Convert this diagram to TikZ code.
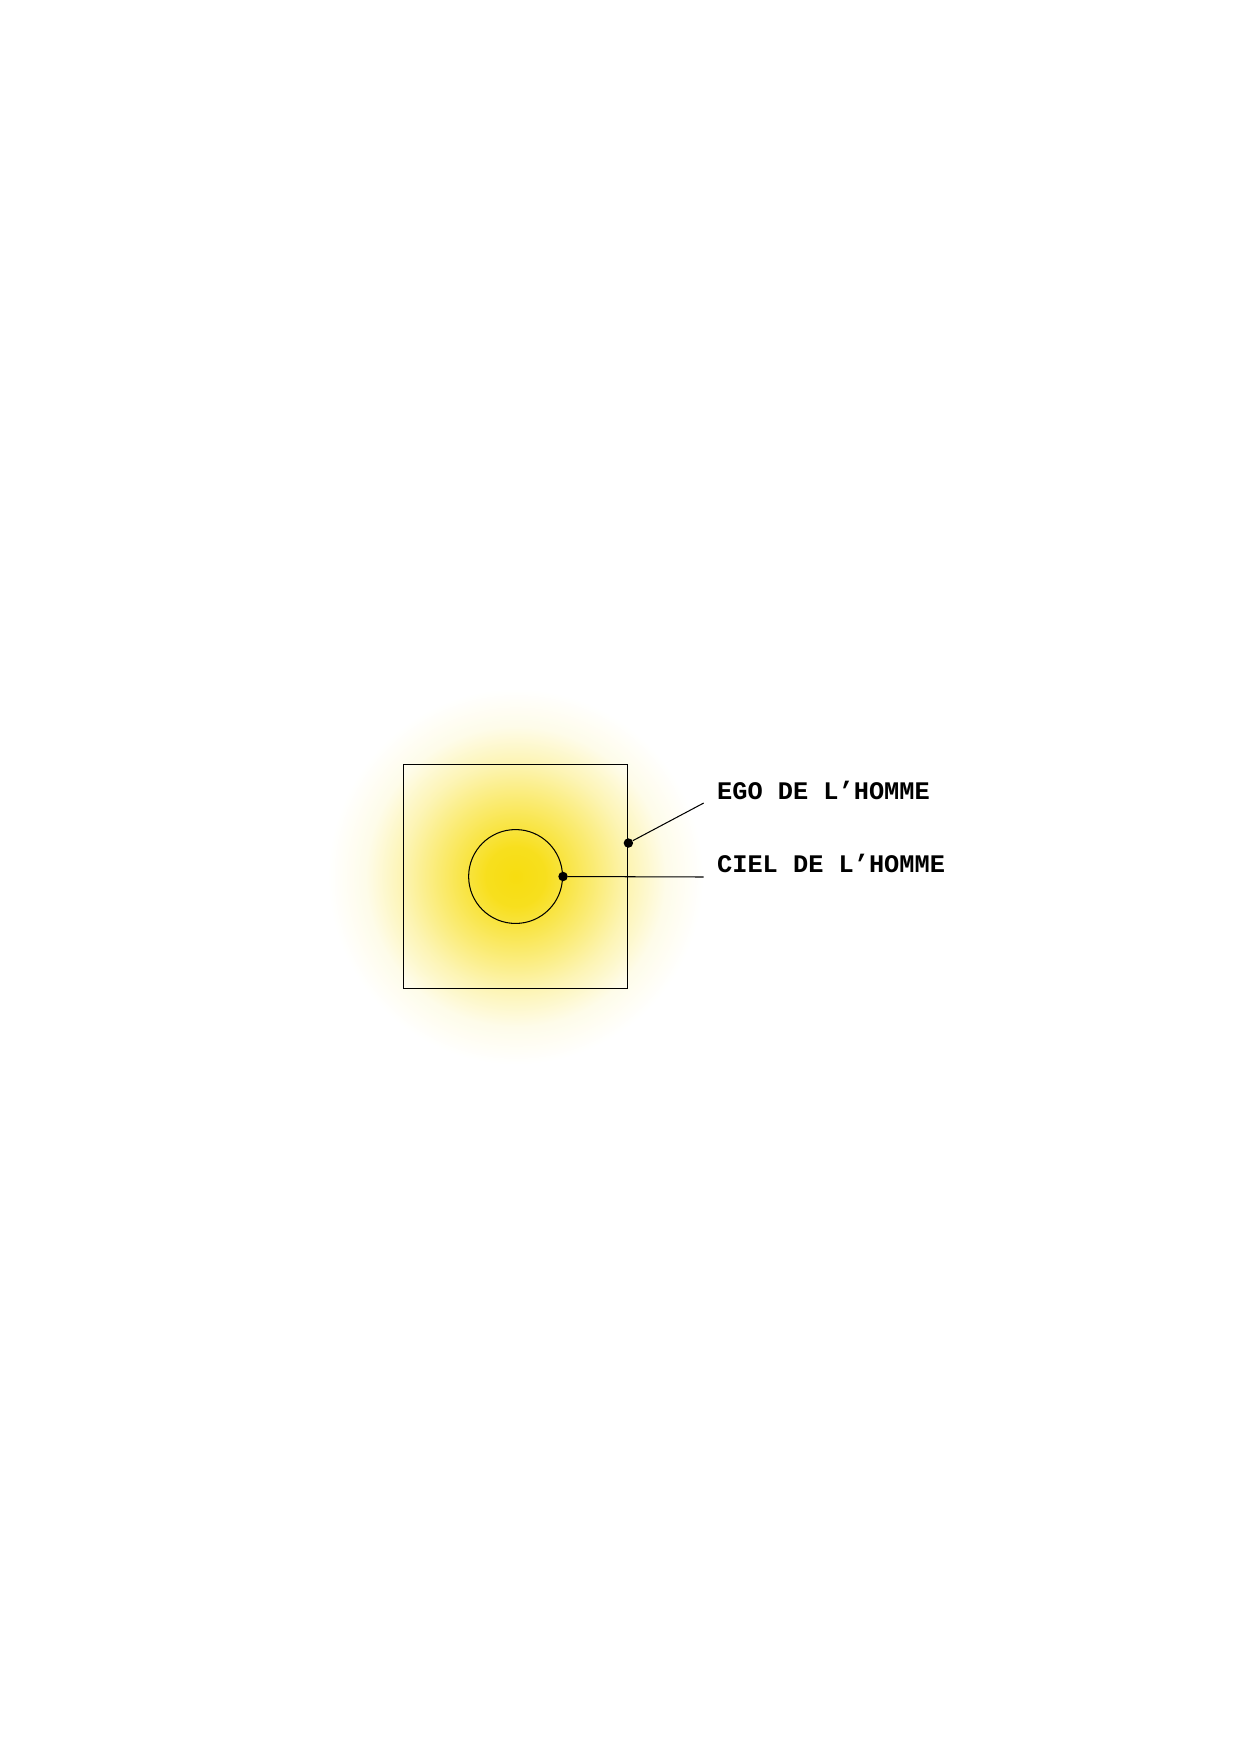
\documentclass[tikz,border=0pt]{standalone}
\usepackage{fontspec}
\setmonofont{Liberation Mono}
\usetikzlibrary{positioning}
\definecolor{sunyellow}{RGB}{247,221,16}
\pgfdeclareradialshading{glow}{\pgfpoint{0bp}{0bp}}{color(0bp)=(sunyellow); color(4bp)=(sunyellow!94!white); color(11bp)=(sunyellow!55!white); color(15bp)=(sunyellow!32!white); color(20bp)=(sunyellow!9!white); color(25bp)=(white); color(50bp)=(white)}

\begin{document}
\begin{tikzpicture}[x=0.016908cm, y=-0.016933cm,
		dot/.style={circle, fill, inner sep=0pt, minimum size=0.16cm},
		tag/.style={anchor=base west, inner sep=0pt, font=\ttfamily\bfseries\fontsize{12.2}{14}\selectfont}]
			\useasboundingbox[fill=white] (0,0) rectangle (1242,1754);
			\coordinate (O) at (516.5,876.5);
			\shade[shading=glow] (O) circle [radius=188];
			\node[rectangle, draw, line width=0.5pt, minimum size=3.804cm, inner sep=0pt] (homme) at (O) {};
			\node[circle, draw, line width=0.5pt, minimum size=1.59cm, inner sep=0pt] (ciel) at (O) {};
			\node[dot] (egodot) at ([yshift=0.567cm]homme.east) {};
			\node[dot] (cieldot) at (ciel.east) {};
			\node[tag] (egotext) at (718,799) {EGO DE L’HOMME};
			\node[tag] (cieltext) at (718,872) {CIEL DE L’HOMME};
			\coordinate (egoend) at (705,803);
			\coordinate (cielend) at (705,877);
			\draw[line width=0.5pt] (egodot) -- (egoend);
			\draw[line width=0.5pt] (cieldot) -- (cielend);
		\end{tikzpicture}
\end{document}
